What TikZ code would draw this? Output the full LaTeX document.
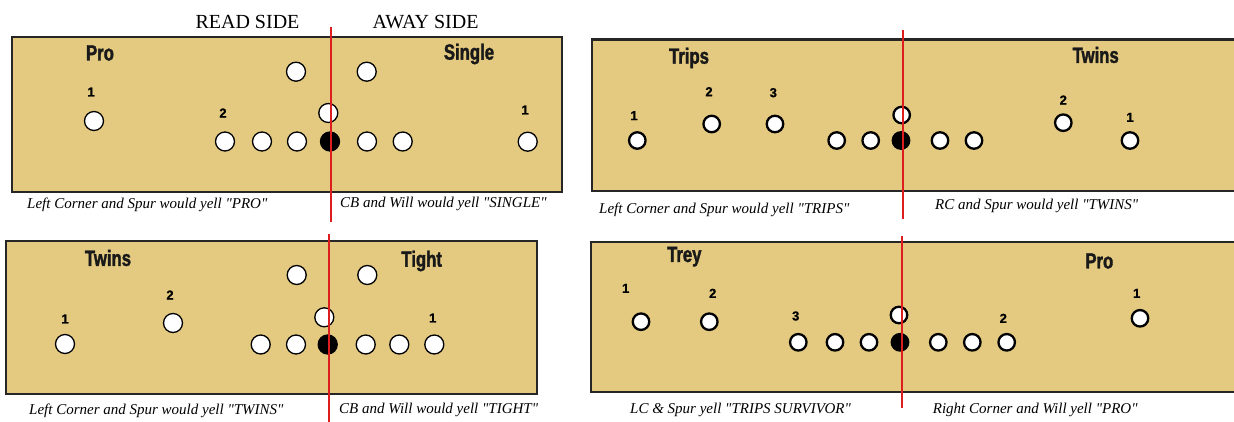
\documentclass[tikz,border=0pt]{standalone}
\usepackage{fontspec}
\setmainfont{Liberation Serif}
\newfontfamily\headfont[FakeStretch=0.76,FakeBold=1.6]{Liberation Sans}
\newfontfamily\numfont[FakeBold=0.8]{Liberation Sans}
\definecolor{fieldtan}{RGB}{228,202,128}
\definecolor{splitred}{RGB}{222,30,30}
\newcommand\qt[1]{\textquotedbl#1\textquotedbl}
\begin{document}
\begin{tikzpicture}[x=1pt,y=-1pt,
   field/.style={draw=black!85,line width=2.2pt,fill=fieldtan},
   man/.style={circle,draw=black,line width=1.3pt,fill=white,minimum size=19pt,inner sep=0pt},
   manb/.style={man,line width=2.3pt,minimum size=16.5pt},
   ball/.style={fill=black},
   split/.style={draw=splitred,line width=1.8pt},
   look/.style={font=\headfont\bfseries\fontsize{22}{22}\selectfont,text=black!90,inner sep=0pt},
   num/.style={font=\numfont\bfseries\fontsize{13}{13}\selectfont,inner sep=0pt},
   yell/.style={font=\itshape\fontsize{15}{15}\selectfont,anchor=west,inner sep=0pt},
   side/.style={font=\fontsize{20}{20}\selectfont,inner sep=0pt}]
   \useasboundingbox (0,0) rectangle (1234,422);
   % headers
   \node[side] (read) at (247.5,22) {READ SIDE};
   \node[side] (away) at (425.5,22) {AWAY SIDE};
   % pro / single
   \draw[field] (11.7,37.3) rectangle (561.7,191.7);
   \node[look] (a-left) at (100,53) {Pro};
   \node[look] (a-right) at (469,54) {Single};
   \node[man] (a-up1) at (296,71.7) {};
   \node[man] (a-up2) at (366.7,71.7) {};
   \node[man] (a-qb) at (328.3,113) {};
   \foreach \x [count=\i] in {225,262,297,367,402.7}
      \node[man] (a-line\i) at (\x,141.5) {};
   \node[man,ball] (a-ball) at (330,141.5) {};
   \node[man] (a-w1) at (94,121) {};
   \node[man] (a-w2) at (527.7,141.7) {};
   \node[num] (a-n1) at (91,92) {1};
   \node[num] (a-n2) at (223,113) {2};
   \node[num] (a-n3) at (525,110) {1};
   \node[yell] (a-capl) at (27,205) {Left Corner and Spur would yell \qt{PRO}};
   \node[yell] (a-capr) at (340,204) {CB and Will would yell \qt{SINGLE}};
   % twins / tight
   \draw[field] (6,240.7) rectangle (536.7,394.3);
   \node[look] (b-left) at (108,258) {Twins};
   \node[look] (b-right) at (421.7,261) {Tight};
   \node[man] (b-up1) at (296.7,275) {};
   \node[man] (b-up2) at (367.3,275) {};
   \node[man] (b-qb) at (324.3,317.3) {};
   \foreach \x [count=\i] in {260.7,296,365.7,399.3,434.3}
      \node[man] (b-line\i) at (\x,344.5) {};
   \node[man,ball] (b-ball) at (327.7,344.5) {};
   \node[man] (b-w1) at (65,344) {};
   \node[man] (b-w2) at (173,323) {};
   \node[num] (b-n1) at (65,319) {1};
   \node[num] (b-n2) at (170,295) {2};
   \node[num] (b-n3) at (432.7,318) {1};
   \node[yell] (b-capl) at (29,411) {Left Corner and Spur would yell \qt{TWINS}};
   \node[yell] (b-capr) at (339,410) {CB and Will would yell \qt{TIGHT}};
   % trips / twins
   \draw[field] (591.7,39.5) rectangle (1245,191.2);
   \node[look] (c-left) at (689,58) {Trips};
   \node[look] (c-right) at (1095.7,55) {Twins};
   \node[manb] (c-qb) at (901.7,115) {};
   \foreach \x [count=\i] in {637.3,836.7,870.7,940,974,1130}
      \node[manb] (c-line\i) at (\x,140.5) {};
   \node[manb,ball] (c-ball) at (901,140.5) {};
   \node[manb] (c-w1) at (711.7,124) {};
   \node[manb] (c-w2) at (775,124) {};
   \node[manb] (c-w3) at (1063.3,122.7) {};
   \node[num] (c-n1) at (634,115.7) {1};
   \node[num] (c-n2) at (709,91.7) {2};
   \node[num] (c-n3) at (773.3,92.7) {3};
   \node[num] (c-n4) at (1063.3,100) {2};
   \node[num] (c-n5) at (1130,117.3) {1};
   \node[yell] (c-capl) at (599,210) {Left Corner and Spur would yell \qt{TRIPS}};
   \node[yell] (c-capr) at (935,205.7) {RC and Spur would yell \qt{TWINS}};
   % trey / pro
   \draw[field] (591,241.7) rectangle (1245,392);
   \node[look] (d-left) at (684.3,256.7) {Trey};
   \node[look] (d-right) at (1099.3,261) {Pro};
   \node[manb] (d-qb) at (899,315) {};
   \foreach \x [count=\i] in {798.3,835,869,938.3,972.3,1006.7}
      \node[manb] (d-line\i) at (\x,342.3) {};
   \node[manb,ball] (d-ball) at (900,342.3) {};
   \node[manb] (d-w1) at (641,321.7) {};
   \node[manb] (d-w2) at (709.3,321.7) {};
   \node[manb] (d-w3) at (1140,318.3) {};
   \node[num] (d-n1) at (625.7,288.3) {1};
   \node[num] (d-n2) at (712.7,293.3) {2};
   \node[num] (d-n3) at (795.7,316) {3};
   \node[num] (d-n4) at (1003.3,318.3) {2};
   \node[num] (d-n5) at (1136.7,293.3) {1};
   \node[yell] (d-capl) at (630,410) {LC \& Spur yell \qt{TRIPS SURVIVOR}};
   \node[yell] (d-capr) at (932.7,410) {Right Corner and Will yell \qt{PRO}};
   % read / away split
   \draw[split] (331,27) -- (331,222);
   \draw[split] (329,234) -- (329,422);
   \draw[split] (903.3,30) -- (903.3,219);
   \draw[split] (901.7,236) -- (901.7,408.3);
\end{tikzpicture}
\end{document}
